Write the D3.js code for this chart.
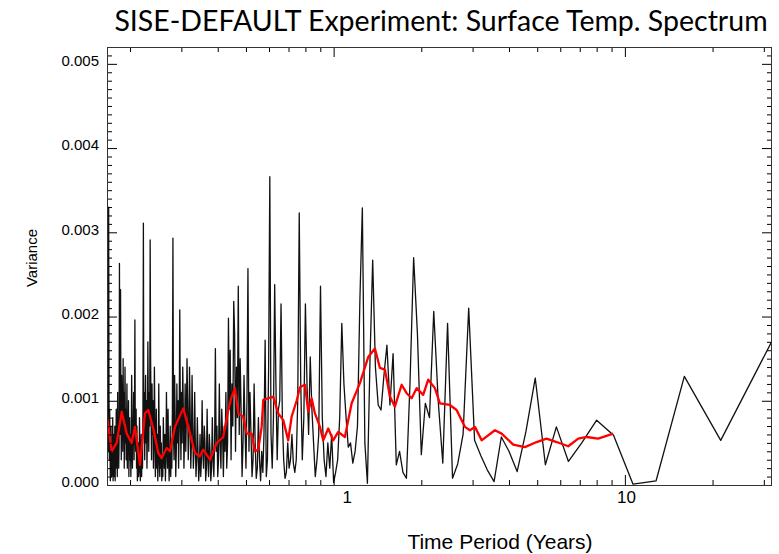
<!DOCTYPE html>
<html>
<head>
<meta charset="utf-8">
<script src="https://cdn.jsdelivr.net/npm/d3@7"></script>
<style>
  body { margin: 0; background: #fff; }
  svg { display: block; }
</style>
</head>
<body>
<svg id="chart" width="779" height="554"></svg>
<script>
// Periodogram of a 64-year monthly record: harmonic k has period recordYears / k.
const recordYears = 64;
const firstHarmonic = 2;
const unit = 1e-4; // variance values below are in units of 1e-4

// Raw spectrum, harmonics 2 .. 384
const spectrum = [
  17.1, 5.3, 12.9, 0.5, 0.1, 5.9, 7.7, 5.0, 2.8, 6.9,
  2.4, 12.7, 6.3, 1.6, 4.0, 5.7, 0.4, 1.8, 3.5, 5.3,
  21.0, 6.0, 2.5, 0.8, 19.2, 2.6, 10.0, 20.6, 8.0, 9.7,
  3.6, 18, 27, 12, 0.8, 1.5, 4, 2.4, 15.6, 9.5,
  16.6, 13, 8.9, 9.5, 14, 26.7, 15, 0.2, 5, 32.9,
  22, 7, 4, 2.6, 5, 4.5, 8, 12, 19.2, 8,
  3, 1.5, 0.3, 6, 2, 5, 1, 3, 8, 23.6,
  6, 3, 1, 5, 9, 15.2, 6, 12, 21.5, 8,
  3, 12, 32.3, 10, 3, 1.5, 2.6, 6, 3, 2,
  5, 1.5, 0.8, 3, 8, 21.5, 10, 9, 3, 12,
  23.8, 8, 2, 6, 36.6, 14, 3, 1, 17.2, 6,
  1.5, 4, 0.5, 3, 8, 2, 0.8, 5, 12, 3,
  1, 6, 11, 4, 25.7, 10, 2, 7, 13, 5,
  1, 9, 15, 6, 23.6, 8, 14, 4, 18, 21.8,
  7, 12, 3, 16, 9, 19.8, 5, 2, 11, 4,
  7, 1, 6, 9, 2, 5, 12, 3, 1, 7,
  4, 16.2, 5, 1, 3, 8, 2, 0.5, 4, 6,
  1, 3, 9, 2, 0.5, 5, 7, 2, 4, 10,
  3, 1, 6, 2, 0.5, 4, 8, 3, 1, 5,
  11, 4, 2, 7, 13, 5, 2, 9, 14, 6,
  3, 10, 15, 8, 4, 12, 6, 2, 9, 14,
  5, 11, 3, 8, 20.8, 7, 2, 10, 5, 12,
  4, 1, 8, 13, 3, 6, 29.3, 9, 2, 5,
  1, 7, 3, 0.5, 4, 9, 2, 5, 11, 3,
  0.5, 6, 2, 4, 8, 1, 3, 0.5, 5, 2,
  7, 1, 4, 12, 3, 0.5, 6, 2, 9, 4,
  1, 8, 14, 5, 2, 10, 6, 12, 3, 8,
  15, 29.1, 7, 11, 4, 9, 17, 6, 2, 10,
  5, 13, 8, 3, 11, 6, 31.1, 9, 2, 5,
  1, 6, 3, 0.5, 4, 8, 2, 1, 5, 3,
  0.5, 7, 2, 9, 4, 6, 19.6, 8, 3, 11,
  5, 7, 2, 9, 13, 4, 1, 6, 3, 8,
  5, 1, 10, 4, 7, 2, 12, 6, 3, 9,
  5, 14, 8, 2, 11, 6, 15, 4, 10, 7,
  13, 3, 9, 23.2, 6, 12, 26.3, 5, 2, 8,
  4, 11, 1, 6, 3, 9, 2, 5, 0.5, 7,
  3, 1, 6, 4, 0.5, 8, 2, 5, 1, 3,
  7, 2, 0.5, 5, 9, 3, 11, 33, 14, 4,
  10, 7, 8
];

// Smoothed spectrum (running mean), period in years
const smoothPeriod = [
  0.1667, 0.1729, 0.1799, 0.1872, 0.1948, 0.2025, 0.2079, 0.2163, 0.2250, 0.2309,
  0.2403, 0.2500, 0.2567, 0.2672, 0.2742, 0.2852, 0.3046, 0.3168, 0.3341, 0.3475,
  0.3567, 0.3762, 0.3967, 0.4178, 0.4347, 0.4465, 0.4583, 0.4705, 0.4895, 0.5028,
  0.5231, 0.5369, 0.5511, 0.5661, 0.5733, 0.5964, 0.6205, 0.6453, 0.6714, 0.6983,
  0.7174, 0.7464, 0.7663, 0.7970, 0.8181, 0.8403, 0.8626, 0.8975, 0.9211, 0.9583,
  0.9968, 1.037, 1.093, 1.153, 1.231, 1.315, 1.386, 1.442, 1.500, 1.561,
  1.623, 1.712, 1.781, 1.853, 1.927, 2.030, 2.112, 2.227, 2.317, 2.507,
  2.644, 2.823, 2.937, 3.056, 3.222, 3.579, 3.774, 4.136, 4.536, 4.977,
  5.385, 5.829, 6.390, 6.915, 7.388, 8.095, 9.118
];
const smoothVar = [
  8.1, 4.0, 5.0, 8.7, 6.1, 5.0, 6.9, 2.4, 8.5, 8.9,
  6.7, 3.8, 3.2, 4.4, 4.0, 6.9, 9.1, 6.9, 3.8, 3.4,
  4.2, 3.0, 5.0, 5.7, 8.9, 10.5, 11.5, 8.5, 8.1, 6.1,
  6.1, 4.0, 4.2, 6.9, 10.1, 10.3, 10.5, 8.5, 7.7, 5.3,
  8.1, 10.0, 11.6, 11.9, 8.7, 10.3, 8.5, 6.9, 5.3, 6.7,
  5.3, 6.3, 5.7, 9.7, 12.1, 15.2, 16.2, 13.9, 13.7, 10.5,
  9.3, 11.9, 10.9, 10.3, 11.5, 10.7, 12.5, 11.5, 9.7, 9.5,
  8.9, 6.9, 6.5, 6.9, 5.3, 6.5, 6.1, 4.8, 4.5, 5.1,
  5.5, 5.1, 4.6, 5.5, 5.7, 5.5, 6.1
];

const yTickValues = [0, 0.001, 0.002, 0.003, 0.004, 0.005];
const xTickValues = [1, 10];
const xMinorValues = [0.2, 0.3, 0.4, 0.5, 0.6, 0.7, 0.8, 0.9, 2, 3, 4, 5, 6, 7, 8, 9, 20, 30];

const titleText = "SISE-DEFAULT Experiment: Surface Temp. Spectrum";
const xTitle = "Time Period (Years)";
const yTitle = "Variance";

const sansFont = "'Liberation Sans', Arial, Helvetica, sans-serif";
const titleFont = "Lato, 'Open Sans', sans-serif";

// ---- layout ----
const plot = { left: 107, right: 772, top: 47, bottom: 485 };

const x = d3.scaleLog().domain([1 / 6, recordYears / 2]).range([plot.left, plot.right]);
const y = d3.scaleLinear().domain([0, 0.0052]).range([plot.bottom, plot.top]);

const svg = d3.select("#chart");

svg.append("defs").append("clipPath").attr("id", "plotClip")
  .append("rect")
  .attr("x", plot.left).attr("y", plot.top)
  .attr("width", plot.right - plot.left).attr("height", plot.bottom - plot.top);

const rawPoints = spectrum.map((v, i) => ({ p: recordYears / (firstHarmonic + i), v: v * unit }));
const smoothPoints = smoothPeriod.map((p, i) => ({ p, v: smoothVar[i] * unit }));

const line = d3.line().x(d => x(d.p)).y(d => y(d.v));

const g = svg.append("g").attr("clip-path", "url(#plotClip)");
g.append("path").datum(rawPoints)
  .attr("d", line).attr("fill", "none")
  .attr("stroke", "#111").attr("stroke-width", 1.3).attr("stroke-linejoin", "round");
g.append("path").datum(smoothPoints)
  .attr("d", line).attr("fill", "none")
  .attr("stroke", "#ff0000").attr("stroke-width", 2.3).attr("stroke-linejoin", "round");

// ---- axes ----
// minor ticks every 0.0001 between the labelled values
const yMinor = d3.range(1, 52).filter(i => i % 10 !== 0).map(i => i * 0.0001);

function styleAxis(sel) {
  sel.select(".domain").remove();
  sel.selectAll(".tick line").attr("stroke", "#000");
}

// left
svg.append("g").attr("transform", `translate(${plot.left},0)`)
  .call(d3.axisLeft(y).tickValues(yMinor).tickSize(-5).tickFormat(""))
  .call(styleAxis);
svg.append("g").attr("transform", `translate(${plot.left},0)`)
  .call(d3.axisLeft(y).tickValues(yTickValues).tickSize(-10).tickPadding(8).tickFormat(d3.format(".3f")))
  .call(styleAxis)
  .call(s => s.selectAll(".tick text")
    .style("font-family", sansFont).style("font-size", "15px").attr("fill", "#000")
    .attr("y", -3));
// right
svg.append("g").attr("transform", `translate(${plot.right},0)`)
  .call(d3.axisRight(y).tickValues(yMinor).tickSize(-5).tickFormat(""))
  .call(styleAxis);
svg.append("g").attr("transform", `translate(${plot.right},0)`)
  .call(d3.axisRight(y).tickValues(yTickValues).tickSize(-10).tickFormat(""))
  .call(styleAxis);
// bottom
svg.append("g").attr("transform", `translate(0,${plot.bottom})`)
  .call(d3.axisBottom(x).tickValues(xMinorValues).tickSize(-5).tickFormat(""))
  .call(styleAxis);
svg.append("g").attr("transform", `translate(0,${plot.bottom})`)
  .call(d3.axisBottom(x).tickValues(xTickValues).tickSize(-10).tickPadding(6).tickFormat(d3.format("d")))
  .call(styleAxis)
  .call(s => s.selectAll(".tick text")
    .style("font-family", sansFont).style("font-size", "17px").attr("fill", "#000")
    .attr("dx", d => d === 1 ? 13 : 1));
// top
svg.append("g").attr("transform", `translate(0,${plot.top})`)
  .call(d3.axisTop(x).tickValues(xMinorValues).tickSize(-5).tickFormat(""))
  .call(styleAxis);
svg.append("g").attr("transform", `translate(0,${plot.top})`)
  .call(d3.axisTop(x).tickValues(xTickValues).tickSize(-10).tickFormat(""))
  .call(styleAxis);

// frame
svg.append("rect")
  .attr("x", plot.left + 0.5).attr("y", plot.top + 0.5)
  .attr("width", plot.right - plot.left - 1).attr("height", plot.bottom - plot.top)
  .attr("fill", "none").attr("stroke", "#333").attr("stroke-width", 1);

// ---- titles ----
svg.append("text")
  .attr("x", 441).attr("y", 31)
  .attr("text-anchor", "middle")
  .style("font-family", titleFont)
  .style("font-size", "28.5px")
  .attr("fill", "#000")
  .text(titleText);

svg.append("text")
  .attr("x", 500).attr("y", 549)
  .attr("text-anchor", "middle")
  .style("font-family", sansFont)
  .style("font-size", "21px")
  .attr("fill", "#000")
  .text(xTitle);

svg.append("text")
  .attr("transform", "translate(37,258) rotate(-90)")
  .attr("text-anchor", "middle")
  .style("font-family", sansFont)
  .style("font-size", "15px")
  .attr("fill", "#000")
  .text(yTitle);
</script>
</body>
</html>
